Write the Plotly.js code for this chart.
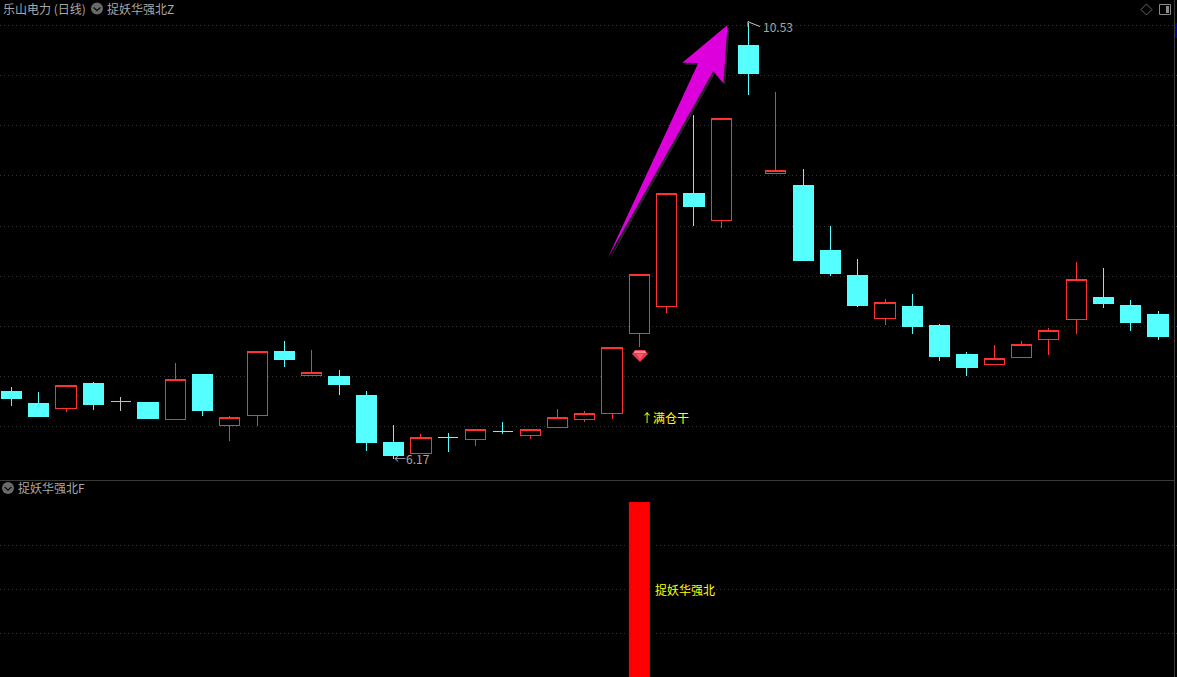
<!DOCTYPE html>
<html>
<head>
<meta charset="utf-8">
<script src="https://cdn.plot.ly/plotly-3.0.1.min.js"></script>
<style>html,body{margin:0;padding:0;background:#000;overflow:hidden}#c{width:1177px;height:677px}
.boxlayer path{shape-rendering:crispEdges}</style>
</head>
<body>
<div id="c"></div>
<script>
var sessions = [0,1,2,3,4,5,6,7,8,9,10,11,12,13,14,15,16,17,18,19,20,21,22,23,24,25,26,27,28,29,30,31,32,33,34,35,36,37,38,39,40,41,42];
var open_ = [6.85,6.73,6.68,6.93,6.75,6.74,6.57,7.02,6.51,6.61,7.25,7.01,7.00,6.81,6.34,6.23,6.39,6.37,6.45,6.41,6.49,6.57,6.63,7.43,7.70,8.83,8.56,10.31,9.03,8.91,8.26,8.01,7.58,7.70,7.51,7.22,7.12,7.19,7.37,7.57,7.79,7.71,7.62];
var high = [6.89,6.84,6.91,6.94,6.79,6.74,7.13,7.02,6.60,7.25,7.35,7.26,7.06,6.85,6.51,6.42,6.43,6.47,6.54,6.47,6.67,6.65,7.29,8.02,8.83,9.61,9.58,10.53,9.84,9.07,8.50,8.17,7.77,7.82,7.52,7.24,7.31,7.35,7.48,8.14,8.08,7.76,7.65];
var low = [6.70,6.59,6.64,6.66,6.65,6.57,6.57,6.60,6.35,6.50,7.09,7.00,6.81,6.25,6.17,6.23,6.24,6.30,6.42,6.37,6.48,6.54,6.57,7.29,7.63,8.50,8.48,9.81,9.03,8.16,8.00,7.69,7.51,7.42,7.15,7.00,7.12,7.18,7.21,7.42,7.68,7.45,7.36];
var close_ = [6.78,6.60,6.91,6.72,6.75,6.58,6.97,6.66,6.59,7.25,7.17,7.04,6.92,6.34,6.21,6.39,6.39,6.47,6.45,6.47,6.59,6.63,7.29,8.02,8.83,8.70,9.58,10.03,9.06,8.16,8.03,7.71,7.74,7.50,7.20,7.09,7.18,7.32,7.46,7.97,7.73,7.54,7.40];
var signalSession = [23];
var signalValue = [1];
var greyDoji = [4];
var priceGrid = [6.497,7.0,7.5,8.0,8.5,9.004,9.505,10.006,10.507];
var signalGrid = [0.25,0.5,0.75];
var titleMain = '乐山电力 (日线)';
var titleIndicator = '捉妖华强北Z';
var titlePane = '捉妖华强北F';
var labelBuyMark = '↑';
var labelBuy = '满仓干';
var labelSignal = '捉妖华强北';

var W = 1177, H = 677;
var RED = '#ff3232', CYAN = '#55ffff', GREY = '#c0c0c0', TXT = '#a8a8a8', YEL = '#ffff00';
var FONT = '"Noto Sans CJK SC","Noto Sans",sans-serif';
function px(x){return x/W;}
function py(y){return 1-y/H;}
function P(pts){return 'M'+pts.map(function(p){return px(p[0])+','+py(p[1]);}).join('L')+'Z';}
function L(pts){return 'M'+pts.map(function(p){return px(p[0])+','+py(p[1]);}).join('L');}

function candle(filter, color, fill){
  var idx = sessions.filter(filter);
  var pick = function(a){return idx.map(function(i){return a[i];});};
  var s = {line:{color:color,width:1},fillcolor:fill};
  return {type:'candlestick',x:idx,open:pick(open_),high:pick(high),low:pick(low),close:pick(close_),
    increasing:s,decreasing:s,whiskerwidth:0,xaxis:'x',yaxis:'y',hoverinfo:'skip',showlegend:false};
}
var isGrey = function(i){return greyDoji.indexOf(i)>=0;};
var traces = [
  candle(function(i){return close_[i]>open_[i];}, RED, '#000000'),
  candle(function(i){return close_[i]<=open_[i] && !isGrey(i);}, CYAN, CYAN),
  candle(isGrey, GREY, GREY),
  {type:'bar',x:signalSession,y:signalValue,width:1,marker:{color:'#000000'},xaxis:'x',yaxis:'y2',hoverinfo:'skip',showlegend:false},
  {type:'bar',x:signalSession,y:signalValue,width:0.77,marker:{color:'#ff0000',line:{width:0}},xaxis:'x',yaxis:'y2',hoverinfo:'skip',showlegend:false}
];

function note(x,y,text,color,size){
  return {xref:'paper',yref:'paper',x:px(x),y:py(y),text:text,showarrow:false,xanchor:'left',yanchor:'middle',
    borderpad:0,font:{family:FONT,size:size||12,color:color}};
}
var iH = high.indexOf(Math.max.apply(null,high));
var iL = low.indexOf(Math.min.apply(null,low));
var annotations = [
  note(2,8.5,titleMain,TXT),
  note(106,8.5,titleIndicator,TXT),
  note(17,487.5,titlePane,TXT),
  note(640,417,labelBuyMark,YEL),
  note(652.5,417,labelBuy,YEL),
  note(654,589,labelSignal,YEL),
  {xref:'x',yref:'y',x:sessions[iH],y:high[iH],text:high[iH].toFixed(2),showarrow:false,xanchor:'left',yanchor:'middle',
    xshift:13,yshift:-3,borderpad:0,font:{family:FONT,size:12,color:TXT}},
  {xref:'x',yref:'y',x:sessions[iL],y:low[iL],text:'←'+low[iL].toFixed(2),showarrow:false,xanchor:'left',yanchor:'middle',
    xshift:-1,yshift:1,borderpad:0,font:{family:FONT,size:12,color:TXT}}
];

function sh(path,fill,line,lw){
  return {type:'path',xref:'paper',yref:'paper',path:path,fillcolor:fill||'rgba(0,0,0,0)',line:{color:line||'rgba(0,0,0,0)',width:lw===undefined?0:lw},layer:'above'};
}
function circle(cx,cy,r,fill){
  return {type:'circle',xref:'paper',yref:'paper',x0:px(cx-r),x1:px(cx+r),y0:py(cy+r),y1:py(cy-r),fillcolor:fill,line:{width:0},layer:'above'};
}
var arrowPts = [[727.5,25],[723.3,83.3],[713.3,71],[607.5,258.5],[698.3,63],[682.3,62.7]];
var shadowPts = arrowPts.map(function(p){return [p[0]+2,p[1]+2];});
var shapes = [
  sh(L([[0,480.5],[1174,480.5]]),null,'#3a3a3a',1),
  sh(L([[1174.5,0],[1174.5,677]]),null,'#3a3a3a',1),
  sh(P([[1175,23],[1177,23],[1177,38],[1175,38]]),'#000090'),
  sh(P(shadowPts),'rgba(110,110,110,0.35)'),
  sh(P(arrowPts),'#dd00dd'),
  sh(P([[632,354],[635,350],[645,350],[648,354],[640,362]]),'#ee3a4e'),
  sh(P([[635,351],[645,351],[646,353],[634,353]]),'#ff8a96'),
  sh(P([[637,354],[643,354],[640,360]]),'#ff5a68'),
  circle(97,8.5,6,'#6a6a6a'),
  circle(8,488,6,'#6a6a6a'),
  sh(L([[93.5,7.5],[97,10.5],[100.5,7.5]]),null,'#111111',1.4),
  sh(L([[4.5,487],[8,490],[11.5,487]]),null,'#111111',1.4),
  sh(P([[1146.5,4],[1152,9.5],[1146.5,15],[1141,9.5]]),null,'#6a6a6a',1),
  sh(P([[1159.5,4.5],[1170.5,4.5],[1170.5,14.5],[1159.5,14.5]]),null,'#8a8a8a',1),
  sh(P([[1166,6],[1169,6],[1169,13],[1166,13]]),'#8a8a8a'),
  sh(L([[748,27],[748,21.5],[751,23],[760,26.5]]),null,'#c8c8c8',1)
];

var grid = {showgrid:true,gridcolor:'#353535',gridwidth:1,griddash:'1px,3px',zeroline:false,showline:false,ticks:'',showticklabels:false,fixedrange:true};
var layout = {
  width:W,height:H,margin:{l:0,r:0,t:0,b:0},paper_bgcolor:'#000000',plot_bgcolor:'#000000',
  showlegend:false,boxgap:0.26,boxgroupgap:0,barmode:'overlay',
  xaxis:{domain:[0,1],range:[-0.421,42.693],showgrid:false,zeroline:false,showline:false,ticks:'',showticklabels:false,rangeslider:{visible:false},fixedrange:true},
  yaxis:Object.assign({},grid,{domain:[py(480),1],range:[5.963,10.763],tickmode:'array',tickvals:priceGrid}),
  yaxis2:Object.assign({},grid,{domain:[0,py(481)],range:[0.0057,1.119],tickmode:'array',tickvals:signalGrid}),
  annotations:annotations,shapes:shapes
};
Plotly.newPlot('c',traces,layout,{displayModeBar:false,staticPlot:true});
</script>
</body>
</html>
